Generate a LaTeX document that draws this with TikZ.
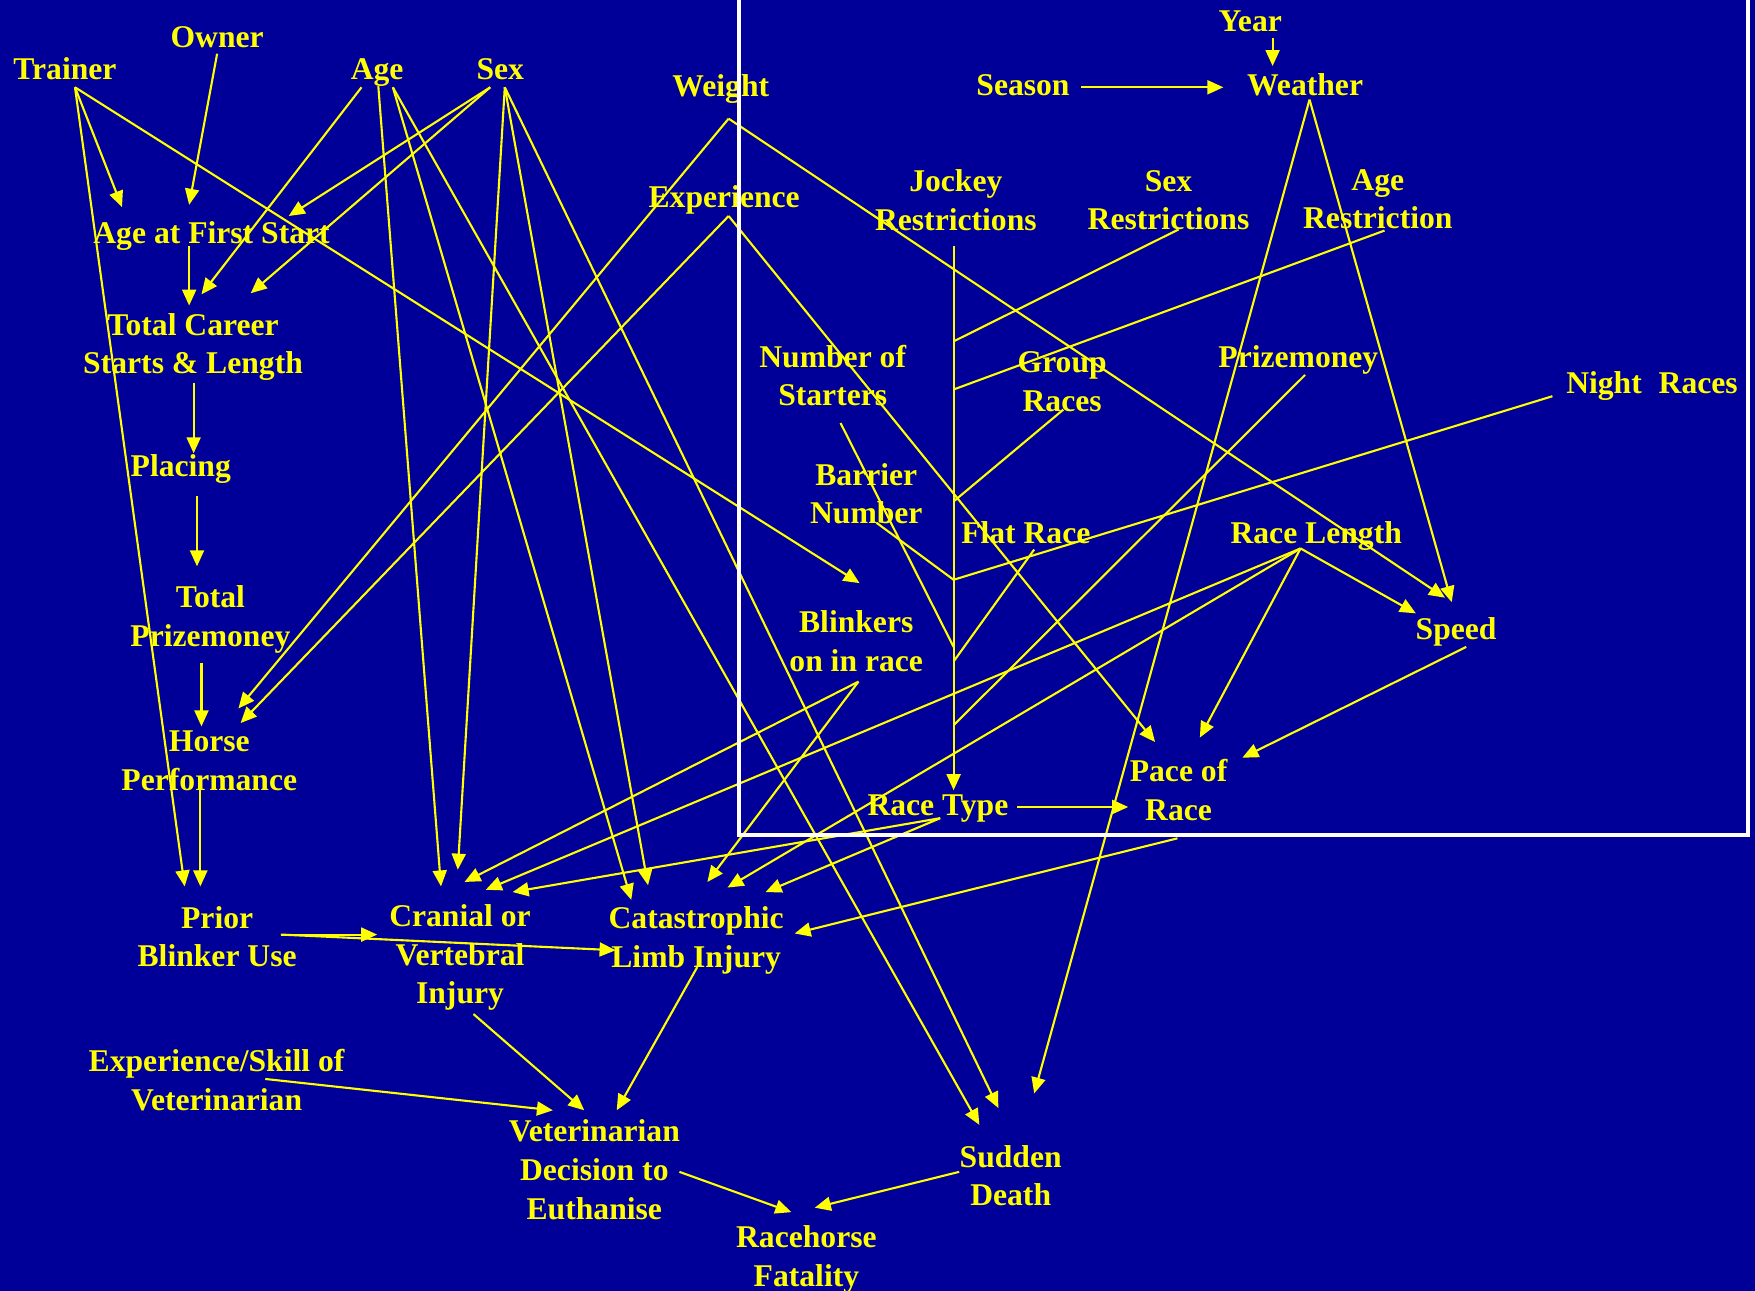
\documentclass[tikz,border=0pt]{standalone}
\usepackage{fontspec}
\setmainfont{Liberation Serif}
\usepackage{xcolor}
\usepackage{tikz}
\usetikzlibrary{arrows.meta}
\definecolor{bgcolor}{RGB}{0,0,153}
\definecolor{factorcolor}{RGB}{255,255,0}
\definecolor{framecolor}{RGB}{255,255,255}

\begin{document}
\begin{tikzpicture}[
    x=0.111926mm, y=-0.111926mm,
    every node/.style={text=factorcolor, font=\bfseries\fontsize{9}{11}\selectfont, align=center, inner sep=0pt},
    arr/.style={draw=factorcolor, line width=0.6pt, -{Triangle[length=1.6mm, width=1.4mm]}},
    link/.style={draw=factorcolor, line width=0.6pt}
]
    \fill[bgcolor] (0,0) rectangle (1568,1153);
    \useasboundingbox (0,0) rectangle (1568,1153);

    \node (trainer) at (58,61.5) {Trainer};
    \node (owner) at (194,33) {Owner};
    \node (age) at (337,65) {Age};
    \node (sex) at (447,61.5) {Sex};
    \node (weight) at (644,79.5) {Weight};
    \node (season) at (914,76) {Season};
    \node (year) at (1117,19) {Year};
    \node (weather) at (1166,76) {Weather};
    \node (experience) at (647,179) {Experience};
    \node (jockeyR) at (854,179) {Jockey\\Restrictions};
    \node (sexR) at (1044,179) {Sex\\Restrictions};
    \node (ageR) at (1231,178) {Age\\Restriction};
    \node (firstStart) at (189,211) {Age at First Start};
    \node (career) at (172.5,310) {Total Career\\Starts \& Length};
    \node (starters) at (744,335.5) {Number of\\Starters};
    \node (groupR) at (949,341) {Group\\Races};
    \node (prize) at (1160,322) {Prizemoney};
    \node (night) at (1476,344.5) {Night\hspace{4.8pt}Races};
    \node (placing) at (161.5,419) {Placing};
    \node (barrier) at (774,441) {Barrier\\Number};
    \node (flat) at (916.5,476) {Flat Race};
    \node (raceLength) at (1176,478.5) {Race Length};
    \node (totalPrize) at (188,553.5) {Total\\Prizemoney};
    \node (blinkers) at (765,573) {Blinkers\\on in race};
    \node (speed) at (1301,565) {Speed};
    \node (performance) at (187,680) {Horse\\Performance};
    \node (pace) at (1053,706) {Pace of\\Race};
    \node (raceType) at (838,722.5) {Race Type};
    \node (priorBlinker) at (194,837) {Prior\\Blinker Use};
    \node (cranial) at (411,855.5) {Cranial or\\Vertebral\\Injury};
    \node (limb) at (622,840) {Catastrophic\\Limb Injury};
    \node (vetSkill) at (193.5,965) {Experience/Skill of\\Veterinarian};
    \node (vetDecision) at (531,1045) {Veterinarian\\Decision to\\Euthanise};
    \node (sudden) at (903,1050.5) {Sudden\\Death};
    \node (fatality) at (720.5,1125.5) {Racehorse\\Fatality};

    % ports where the arrows leave
    \coordinate (trainerOut) at (67,78);
    \coordinate (ownerOut) at (194,48);
    \coordinate (firstStartOut) at (169,220);
    \coordinate (ageOutA) at (323,78);
    \coordinate (ageOutB) at (338,77);
    \coordinate (ageOutC) at (351,78);
    \coordinate (sexOutA) at (438,78);
    \coordinate (sexOutB) at (451,78);
    \coordinate (careerOut) at (173,342);
    \coordinate (placingOut) at (176,443);
    \coordinate (totalPrizeOut) at (180,592);
    \coordinate (weightOut) at (651,106);
    \coordinate (experienceOut) at (651,193);
    \coordinate (weatherOut) at (1170,89);
    \coordinate (seasonOut) at (966,78);
    \coordinate (yearOut) at (1137,34);
    \coordinate (jockeyOut) at (852,220);
    \coordinate (sexROut) at (1053,205);
    \coordinate (ageROut) at (1237,206);
    \coordinate (groupROut) at (950,366);
    \coordinate (barrierOut) at (783,467);
    \coordinate (nightOut) at (1387,354);
    \coordinate (startersOut) at (751,378);
    \coordinate (flatOut) at (924,491);
    \coordinate (prizeOut) at (1166,335);
    \coordinate (raceLengthOut) at (1162,490);
    \coordinate (blinkersOut) at (767,609);
    \coordinate (raceTypeOut) at (840,731);
    \coordinate (raceTypeRight) at (909,721);
    \coordinate (speedOut) at (1310,578);
    \coordinate (paceOut) at (1052,749);
    \coordinate (priorBlinkerOut) at (251,835);
    \coordinate (performanceOut) at (179,706);
    \coordinate (cranialOut) at (423,906);
    \coordinate (vetSkillOut) at (237,964);
    \coordinate (limbOut) at (623,864);
    \coordinate (vetDecisionOut) at (607,1047);
    \coordinate (suddenOut) at (857,1047);

    % joins on the race type line
    \coordinate (joinA) at (852,305);
    \coordinate (joinB) at (852,348);
    \coordinate (joinC) at (852,448);
    \coordinate (joinD) at (852,518);
    \coordinate (joinE) at (852,578);
    \coordinate (joinF) at (852,591);
    \coordinate (joinG) at (852,648);

    % arrow tips
    \coordinate (firstStartInA) at (109,185);
    \coordinate (firstStartInB) at (169,183);
    \coordinate (firstStartInC) at (258,193);
    \coordinate (careerInA) at (169,273);
    \coordinate (careerInB) at (180,263);
    \coordinate (careerInC) at (224,262);
    \coordinate (placingIn) at (173,405);
    \coordinate (totalPrizeIn) at (176,506);
    \coordinate (performanceInA) at (180,649);
    \coordinate (performanceInB) at (213,633);
    \coordinate (performanceInC) at (215,646);
    \coordinate (priorBlinkerInA) at (165,792);
    \coordinate (priorBlinkerInB) at (179,792);
    \coordinate (blinkersIn) at (768,521);
    \coordinate (cranialInA) at (337,835);
    \coordinate (cranialInB) at (394,792);
    \coordinate (cranialInC) at (409,777);
    \coordinate (cranialInD) at (415,788);
    \coordinate (cranialInE) at (434,795);
    \coordinate (cranialInF) at (458,797);
    \coordinate (limbInA) at (550,849);
    \coordinate (limbInB) at (564,804);
    \coordinate (limbInC) at (579,791);
    \coordinate (limbInD) at (632,788);
    \coordinate (limbInE) at (650,793);
    \coordinate (limbInF) at (684,797);
    \coordinate (limbInG) at (710,834);
    \coordinate (suddenInA) at (875,1005);
    \coordinate (suddenInB) at (892,990);
    \coordinate (suddenInC) at (924,977);
    \coordinate (speedInA) at (1291,534);
    \coordinate (speedInB) at (1297,538);
    \coordinate (speedInC) at (1265,548);
    \coordinate (paceInA) at (1032,663);
    \coordinate (paceInB) at (1072,659);
    \coordinate (paceInC) at (1110,677);
    \coordinate (paceInD) at (1008,721);
    \coordinate (raceTypeIn) at (852,706);
    \coordinate (weatherInA) at (1093,78);
    \coordinate (weatherInB) at (1137,59);
    \coordinate (vetDecisionInA) at (522,992);
    \coordinate (vetDecisionInB) at (494,992);
    \coordinate (vetDecisionInC) at (551,992);
    \coordinate (fatalityInA) at (707,1083);
    \coordinate (fatalityInB) at (728,1079);

    \draw[arr] (trainerOut) -- (firstStartInA);
    \draw[arr] (trainerOut) -- (priorBlinkerInA);
    \draw[arr] (trainerOut) -- (blinkersIn);
    \draw[arr] (ownerOut) -- (firstStartInB);
    \draw[arr] (firstStartOut) -- (careerInA);
    \draw[arr] (ageOutA) -- (careerInB);
    \draw[arr] (ageOutB) -- (cranialInB);
    \draw[arr] (ageOutC) -- (limbInB);
    \draw[arr] (ageOutC) -- (suddenInA);
    \draw[arr] (sexOutA) -- (firstStartInC);
    \draw[arr] (sexOutA) -- (careerInC);
    \draw[arr] (sexOutB) -- (cranialInC);
    \draw[arr] (sexOutB) -- (limbInC);
    \draw[arr] (sexOutB) -- (suddenInB);
    \draw[arr] (careerOut) -- (placingIn);
    \draw[arr] (placingOut) -- (totalPrizeIn);
    \draw[arr] (totalPrizeOut) -- (performanceInA);
    \draw[arr] (performanceOut) -- (priorBlinkerInB);
    \draw[arr] (weightOut) -- (performanceInB);
    \draw[arr] (weightOut) -- (speedInA);
    \draw[arr] (experienceOut) -- (performanceInC);
    \draw[arr] (experienceOut) -- (paceInA);
    \draw[arr] (seasonOut) -- (weatherInA);
    \draw[arr] (yearOut) -- (weatherInB);
    \draw[arr] (weatherOut) -- (suddenInC);
    \draw[arr] (weatherOut) -- (speedInB);
    \draw[arr] (jockeyOut) -- (raceTypeIn);
    \draw[link] (sexROut) -- (joinA);
    \draw[link] (ageROut) -- (joinB);
    \draw[link] (groupROut) -- (joinC);
    \draw[link] (barrierOut) -- (joinD);
    \draw[link] (nightOut) -- (joinD);
    \draw[link] (startersOut) -- (joinE);
    \draw[link] (flatOut) -- (joinF);
    \draw[link] (prizeOut) -- (joinG);
    \draw[arr] (raceLengthOut) -- (cranialInE);
    \draw[arr] (raceLengthOut) -- (limbInE);
    \draw[arr] (raceLengthOut) -- (paceInB);
    \draw[arr] (raceLengthOut) -- (speedInC);
    \draw[arr] (speedOut) -- (paceInC);
    \draw[arr] (blinkersOut) -- (cranialInD);
    \draw[arr] (blinkersOut) -- (limbInD);
    \draw[arr] (raceTypeOut) -- (cranialInF);
    \draw[arr] (raceTypeOut) -- (limbInF);
    \draw[arr] (raceTypeRight) -- (paceInD);
    \draw[arr] (paceOut) -- (limbInG);
    \draw[arr] (priorBlinkerOut) -- (cranialInA);
    \draw[arr] (priorBlinkerOut) -- (limbInA);
    \draw[arr] (cranialOut) -- (vetDecisionInA);
    \draw[arr] (vetSkillOut) -- (vetDecisionInB);
    \draw[arr] (limbOut) -- (vetDecisionInC);
    \draw[arr] (vetDecisionOut) -- (fatalityInA);
    \draw[arr] (suddenOut) -- (fatalityInB);

    \draw[framecolor, line width=1.2pt] (660,-10) -- (660,746) -- (1562,746) -- (1562,-10);
\end{tikzpicture}
\end{document}
